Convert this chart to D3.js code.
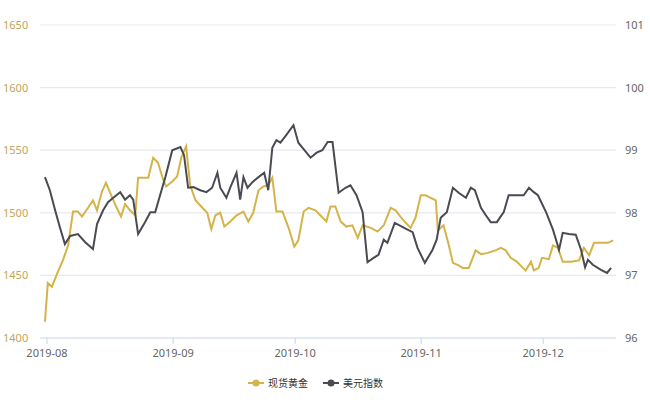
<!DOCTYPE html><html><head><meta charset="utf-8"><script src="https://cdn.jsdelivr.net/npm/d3@7"></script>
<style>body{margin:0;background:#fff}</style></head><body><svg id="c" width="650" height="406"></svg>
<script>
const goldDays=[-0.5,0.2,1.2,2.7,3.9,5.2,6.4,7.6,8.6,10.1,11.3,12.3,13.5,14.5,15.8,17.0,18.2,19.2,20.4,21.7,22.4,23.6,24.9,26.1,27.3,28.6,29.3,30.8,32.0,33.0,34.2,35.2,36.5,38.2,39.4,40.4,41.4,42.6,43.6,45.1,46.6,48.3,49.5,50.7,52.0,53.2,54.4,55.4,56.4,57.9,59.4,60.8,61.8,63.1,64.3,66.0,67.2,68.7,69.7,70.9,72.2,73.6,75.1,76.4,77.6,79.6,81.3,82.8,84.5,85.7,86.9,88.2,89.4,90.6,91.9,93.1,94.3,95.6,96.1,97.5,98.8,99.8,101.2,102.2,103.7,105.4,106.7,108.4,110.3,111.6,112.8,114.0,115.5,117.0,117.7,119.0,119.7,120.9,121.7,123.4,124.4,125.6,126.8,128.8,130.8,132.0,133.3,134.5,136.2,137.9,139.2];
const goldVals=[1413,1444,1441,1453,1462,1474,1501,1501,1497,1504,1510,1502,1517,1524,1514,1505,1497,1507,1502,1498,1528,1528,1528,1544,1540,1526,1521,1525,1529,1544,1553,1522,1510,1504,1500,1487,1498,1500,1489,1493,1498,1501,1493,1500,1518,1521,1522,1528,1501,1501,1488,1473,1478,1501,1504,1502,1498,1493,1505,1505,1493,1489,1490,1480,1490,1488,1485,1490,1504,1502,1497,1492,1488,1496,1514,1514,1512,1510,1486,1490,1474,1460,1458,1456,1456,1470,1467,1468,1470,1472,1470,1464,1461,1456,1454,1461,1454,1456,1464,1463,1474,1472,1461,1461,1462,1472,1466,1476,1476,1476,1478];
const usdDays=[-0.5,0.7,2.0,3.2,4.4,5.7,7.6,9.4,11.3,12.3,13.8,15.0,16.3,18.0,19.2,20.4,21.2,22.4,24.1,25.4,26.6,27.8,29.1,30.8,32.8,33.7,34.7,36.0,37.7,39.2,40.6,41.9,42.6,44.1,45.1,46.6,47.5,48.3,49.3,50.5,52.0,53.4,54.4,55.4,56.4,57.4,58.9,60.6,61.8,63.3,64.8,66.3,67.7,69.0,70.2,71.7,73.4,74.6,76.1,77.6,78.8,80.3,81.5,82.8,83.7,85.5,86.9,88.4,89.9,91.1,92.9,94.8,95.8,96.8,98.3,99.8,101.2,103.0,104.2,105.2,106.7,107.9,109.1,110.6,112.3,113.5,115.3,117.2,118.5,119.7,120.7,122.7,124.4,125.9,126.8,128.3,130.0,131.3,132.3,133.0,134.2,136.2,137.7,138.7];
const usdVals=[98.57,98.36,98.04,97.76,97.50,97.63,97.66,97.53,97.42,97.82,98.04,98.17,98.24,98.33,98.21,98.28,98.21,97.66,97.85,98.01,98.01,98.28,98.57,99.00,99.05,98.92,98.40,98.41,98.36,98.33,98.40,98.64,98.40,98.24,98.41,98.64,98.21,98.57,98.40,98.49,98.57,98.64,98.36,99.04,99.16,99.12,99.25,99.40,99.12,99.00,98.88,98.96,99.00,99.13,99.13,98.32,98.40,98.44,98.28,98.01,97.21,97.28,97.33,97.57,97.52,97.84,97.79,97.74,97.69,97.44,97.20,97.41,97.57,97.92,98.01,98.40,98.32,98.24,98.40,98.36,98.08,97.96,97.85,97.85,98.01,98.28,98.28,98.28,98.40,98.33,98.28,98.01,97.73,97.41,97.68,97.66,97.65,97.41,97.13,97.25,97.17,97.09,97.04,97.12];
const leftTicks=[1400,1450,1500,1550,1600,1650];
const rightTicks=[96,97,98,99,100,101];
const monthDays=[0,31,61,92,122];
const monthLabels=["2019-08","2019-09","2019-10","2019-11","2019-12"];
const seriesNames=["现货黄金","美元指数"];
const colors=["#d4b44a","#4a4a52"];

const svg=d3.select("#c");
const x=d3.scaleLinear().domain([-1.72,139.9]).range([40,616]);
const yL=d3.scaleLinear().domain([1400,1650]).range([338,25]);
const yR=d3.scaleLinear().domain([96,101]).range([338,25]);
const font="Noto Sans, sans-serif";
svg.append("g").selectAll("line").data(leftTicks).join("line")
 .attr("x1",40).attr("x2",616).attr("y1",d=>yL(d)).attr("y2",d=>yL(d))
 .attr("stroke",d=>d===1400?"#c9d3e6":"#e6e9ef").attr("stroke-width",1.2);
svg.append("g").selectAll("line").data(monthDays).join("line")
 .attr("x1",d=>x(d)).attr("x2",d=>x(d)).attr("y1",338).attr("y2",344).attr("stroke","#c9d3e6");
svg.append("g").selectAll("text").data(leftTicks).join("text")
 .attr("x",3).attr("y",d=>yL(d)+4).text(d=>d).attr("font-family",font).attr("font-size",11).attr("fill","#c2a55a");
svg.append("g").selectAll("text").data(rightTicks).join("text")
 .attr("x",625).attr("y",d=>yR(d)+4).text(d=>d).attr("font-family",font).attr("font-size",11).attr("fill","#666");
svg.append("g").selectAll("text").data(monthDays).join("text")
 .attr("x",d=>x(d)).attr("y",357).attr("text-anchor","middle").text((d,i)=>monthLabels[i]).attr("font-family",font).attr("font-size",11).attr("fill","#666");
const lg=d3.line().x(d=>x(d[0])).y(d=>yL(d[1]));
const lu=d3.line().x(d=>x(d[0])).y(d=>yR(d[1]));
svg.append("path").attr("d",lg(d3.zip(goldDays,goldVals))).attr("fill","none").attr("stroke",colors[0]).attr("stroke-width",2);
svg.append("path").attr("d",lu(d3.zip(usdDays,usdVals))).attr("fill","none").attr("stroke",colors[1]).attr("stroke-width",2);
const lx=[248,323];
seriesNames.forEach((n,i)=>{
 const g=svg.append("g").attr("transform",`translate(${lx[i]},383)`);
 g.append("line").attr("x1",0).attr("x2",16).attr("stroke",colors[i]).attr("stroke-width",2);
 g.append("circle").attr("cx",8).attr("r",3.5).attr("fill",colors[i]);
 g.append("text").attr("x",20).attr("y",4).text(n).attr("font-family","Noto Sans CJK SC, sans-serif").attr("font-size",10).attr("fill","#333");
});
</script></body></html>
